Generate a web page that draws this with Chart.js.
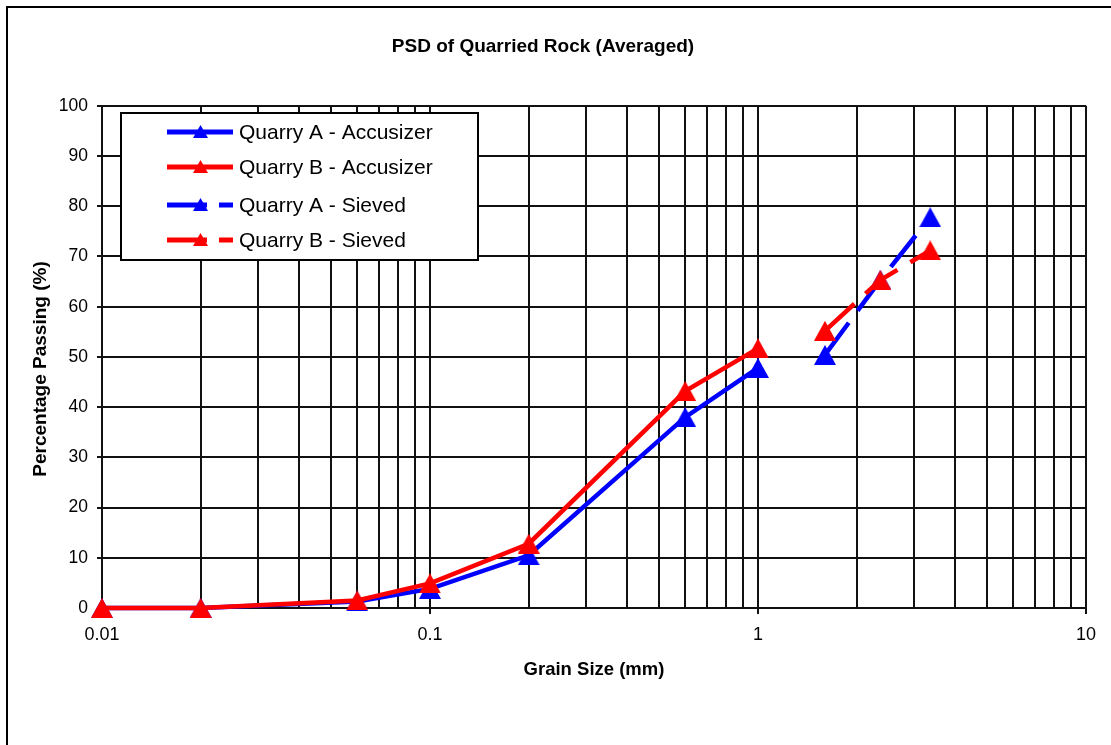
<!DOCTYPE html>
<html>
<head>
<meta charset="utf-8">
<script src="https://cdn.jsdelivr.net/npm/chart.js@4/dist/chart.umd.min.js"></script>
<style>
  body { margin: 0; background: #fff; }
  #wrap { width: 1111px; height: 745px; position: relative; }
</style>
</head>
<body>
<div id="wrap"><canvas id="psdChart"></canvas></div>
<script>
// grain sizes (mm) and % passing
var sizesAccusizer = [0.01, 0.02, 0.06, 0.1, 0.2, 0.6, 1.0];
var quarryAAccusizer = [0, 0, 1.3, 3.8, 10.5, 38.0, 47.8];
var quarryBAccusizer = [0, 0, 1.5, 4.9, 12.8, 43.2, 51.7];
var sizesSieved = [1.6, 2.36, 3.35];
var quarryASieved = [50.4, 65.3, 77.8];
var quarryBSieved = [55.2, 65.3, 71.2];

var seriesNames = ['Quarry A - Accusizer', 'Quarry B - Accusizer', 'Quarry A - Sieved', 'Quarry B - Sieved'];
var yTicks = [0, 10, 20, 30, 40, 50, 60, 70, 80, 90, 100];
var xMin = 0.01, xMax = 10;
var yTitle = 'Percentage Passing (%)';

var BLUE = '#0000ff', RED = '#ff0000';
var FONT = '"Liberation Sans", Arial, sans-serif';
Chart.defaults.font.family = FONT;
Chart.defaults.color = '#000';

function toPoints(xs, ys) {
  return xs.map(function(x, i) { return {x: x, y: ys[i]}; });
}

// triangle marker as an image so it is centred on the value like excel does
function triangle(color, w, h) {
  var c = document.createElement('canvas');
  c.width = w; c.height = h;
  var g = c.getContext('2d');
  g.fillStyle = color;
  g.beginPath();
  g.moveTo(w / 2, 0);
  g.lineTo(w, h);
  g.lineTo(0, h);
  g.closePath();
  g.fill();
  return c;
}

function lineSet(label, xs, ys, color, dashed, order) {
  return {
    label: label,
    data: toPoints(xs, ys),
    borderColor: color,
    backgroundColor: color,
    borderWidth: 4.5,
    borderDash: dashed ? [40, 15] : [],
    pointStyle: triangle(color, 22, 20),
    pointRadius: 11,
    pointHoverRadius: 11,
    tension: 0,
    clip: false,
    order: order,
  };
}

// frame round the whole chart
var frame = {
  id: 'frame',
  beforeDraw: function(chart) {
    var ctx = chart.ctx;
    ctx.save();
    ctx.fillStyle = '#fff';
    ctx.fillRect(0, 0, chart.width, chart.height);
    ctx.strokeStyle = '#000';
    ctx.lineWidth = 2;
    ctx.strokeRect(7, 7, chart.width + 20, chart.height + 20);
    ctx.restore();
  },
  afterDraw: function(chart) {
    // y title sits a little below the middle of the axis in the original
    var ctx = chart.ctx;
    ctx.save();
    ctx.translate(41, 369);
    ctx.rotate(-Math.PI / 2);
    ctx.font = 'bold 19px ' + FONT;
    ctx.fillStyle = '#000';
    ctx.textAlign = 'center';
    ctx.textBaseline = 'middle';
    ctx.fillText(yTitle, 0, 0);
    ctx.restore();
  },
};

// excel style legend box sitting inside the plot
var boxLegend = {
  id: 'boxLegend',
  afterDraw: function(chart) {
    var ctx = chart.ctx;
    var colors = [BLUE, RED, BLUE, RED];
    var rows = [132, 167, 205, 240];
    ctx.save();
    ctx.fillStyle = '#fff';
    ctx.fillRect(121, 113, 357, 147);
    ctx.strokeStyle = '#000';
    ctx.lineWidth = 2;
    ctx.strokeRect(121, 113, 357, 147);
    seriesNames.forEach(function(name, i) {
      var y = rows[i];
      ctx.strokeStyle = colors[i];
      ctx.lineWidth = 5;
      ctx.setLineDash(i > 1 ? [40, 12] : []);
      ctx.beginPath();
      ctx.moveTo(167, y);
      ctx.lineTo(233, y);
      ctx.stroke();
      ctx.setLineDash([]);
      ctx.drawImage(triangle(colors[i], 15, 13), 193, y - 7);
      ctx.fillStyle = '#000';
      ctx.font = '21px ' + FONT;
      ctx.textAlign = 'left';
      ctx.textBaseline = 'middle';
      ctx.fillText(name, 239, y + 1);
    });
    ctx.restore();
  },
};

// every 1..9 step of each decade gets a grid line
var logGrid = [];
for (var d = -2; d <= 0; d++) {
  for (var m = 1; m <= 9; m++) logGrid.push(+(m * Math.pow(10, d)).toPrecision(3));
}
logGrid.push(10);

function isDecade(v) {
  var l = Math.log10(v);
  return Math.abs(l - Math.round(l)) < 1e-9;
}

new Chart(document.getElementById('psdChart'), {
  type: 'line',
  data: {
    datasets: [
      lineSet(seriesNames[0], sizesAccusizer, quarryAAccusizer, BLUE, false, 1),
      lineSet(seriesNames[1], sizesAccusizer, quarryBAccusizer, RED, false, 0),
      lineSet(seriesNames[2], sizesSieved, quarryASieved, BLUE, true, 1),
      lineSet(seriesNames[3], sizesSieved, quarryBSieved, RED, true, 0),
    ],
  },
  options: {
    responsive: true,
    maintainAspectRatio: false,
    animation: false,
    layout: { padding: { left: 0, right: 25, top: 0, bottom: 57 } },
    plugins: {
      legend: { display: false },
      tooltip: { enabled: false },
      title: {
        display: true,
        text: 'PSD of Quarried Rock (Averaged)',
        font: { size: 19, weight: 'bold' },
        color: '#000',
        padding: { top: 35, bottom: 48 },
      },
    },
    scales: {
      x: {
        type: 'logarithmic',
        min: xMin,
        max: xMax,
        afterBuildTicks: function(scale) {
          scale.ticks = logGrid.map(function(v) { return {value: v, major: isDecade(v)}; });
        },
        afterFit: function(scale) { scale.height = 80; },
        ticks: {
          autoSkip: false,
          maxRotation: 0,
          padding: 10,
          font: { size: 18 },
          callback: function(v) { return isDecade(v) ? String(+v.toPrecision(3)) : ''; },
        },
        grid: {
          color: '#111',
          lineWidth: 2,
          tickLength: 6,
          tickColor: function(c) { return c.tick && isDecade(c.tick.value) ? '#111' : 'rgba(0,0,0,0)'; },
        },
        border: { color: '#111', width: 2 },
        title: {
          display: true,
          text: 'Grain Size (mm)',
          font: { size: 18.5, weight: 'bold' },
          padding: { top: 0, bottom: 7 },
        },
      },
      y: {
        min: 0,
        max: 100,
        afterBuildTicks: function(scale) {
          scale.ticks = yTicks.map(function(v) { return {value: v}; });
        },
        afterFit: function(scale) { scale.width = 102; },
        ticks: { padding: 9, font: { size: 17.5 } },
        grid: { color: '#111', lineWidth: 2, tickLength: 5 },
        border: { color: '#111', width: 2 },
        title: { display: false },
      },
    },
  },
  plugins: [frame, boxLegend],
});
</script>
</body>
</html>
